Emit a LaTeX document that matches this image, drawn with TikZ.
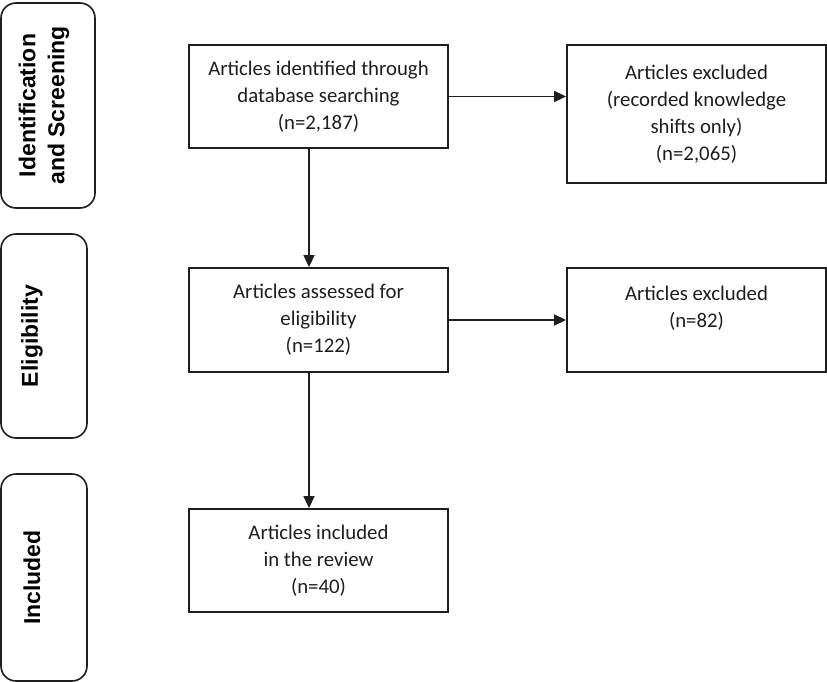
\documentclass[tikz,border=0pt]{standalone}
\usepackage{fontspec}
\setmainfont{Carlito}
\newfontfamily\labelfont{Liberation Sans}
\usetikzlibrary{arrows.meta}
\definecolor{ink}{HTML}{1E1E1E}
\tikzset{
  phase/.style={draw=ink, line width=1.6pt, rounded corners=15pt, inner sep=0pt},
  phasetext/.style={rotate=90, font=\labelfont\bfseries\fontsize{23}{29}\selectfont, text=black, align=center},
  stepbox/.style={draw=ink, line width=1.8pt, inner sep=0pt, minimum width=259pt,
    font=\fontsize{20.8}{27}\selectfont, text=ink, align=center},
  flow/.style={draw=ink, line width=1.6pt, -{Triangle[length=12pt,width=11pt]}}
}
\begin{document}
\begin{tikzpicture}[x=1pt,y=-1pt]
\useasboundingbox (0,0) rectangle (827,682);
% phase boxes
\node[phase, minimum width=94pt, minimum height=205pt] (L1) at (48,105.5) {};
\node[phasetext] (L1t) at ([xshift=-4pt]L1.center) {Identification\\and Screening};
\node[phase, minimum width=86pt, minimum height=204pt] (L2) at (44,336) {};
\node[phasetext] (L2t) at ([xshift=-12pt]L2.center) {Eligibility};
\node[phase, minimum width=86pt, minimum height=207pt] (L3) at (44,577.5) {};
\node[phasetext] (L3t) at ([xshift=-12pt]L3.center) {Included};
% main boxes
\node[stepbox, minimum height=103pt] (B1) at (318.5,96.5) {Articles identified through\\database searching\\(n=2,187)};
\node[stepbox, minimum height=104pt] (B2) at (318.5,320) {Articles assessed for\\eligibility\\(n=122)};
\node[stepbox, minimum height=103pt] (B3) at (318.5,560.5) {Articles included\\in the review\\(n=40)};
% right boxes
\node[stepbox, minimum height=138pt] (R1) at (696.5,114) {Articles excluded\\(recorded knowledge\\shifts only)\\(n=2,065)};
\node[stepbox, minimum height=104pt] (R2) at (696.5,320) {Articles excluded\\(n=82)\\[-8pt]\strut};
% connectors
\draw[flow] (B1.east) -- (B1.east -| R1.west);
\draw[flow] (B2.east) -- (R2.west);
\draw[flow] ([xshift=-9.5pt]B1.south) -- ([xshift=-9.5pt]B2.north);
\draw[flow] ([xshift=-9.5pt]B2.south) -- ([xshift=-9.5pt]B3.north);
\end{tikzpicture}
\end{document}
